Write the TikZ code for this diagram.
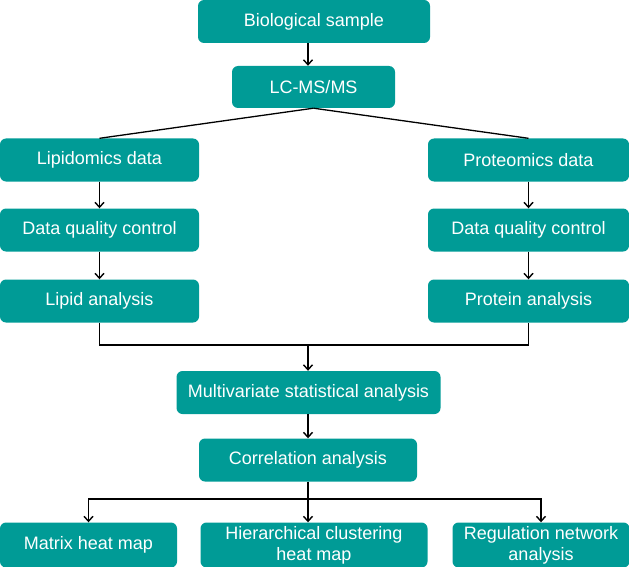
\documentclass[tikz,border=0pt]{standalone}
\usepackage{fontspec}
\setmainfont{Liberation Sans}
\usepackage{tikz}
\usetikzlibrary{positioning,calc,arrows.meta}
\definecolor{boxteal}{RGB}{0,155,150}
\tikzset{>={Straight Barb[length=5pt,width=9pt,line width=1.4pt]}}
\tikzset{box/.style={rectangle, rounded corners=6pt, fill=boxteal, text=white,
    minimum height=43pt, inner sep=0pt, align=center,
    font=\fontsize{18}{21}\selectfont}}
\tikzset{link/.style={line width=1.3pt, black}}

\begin{document}
\begin{tikzpicture}[x=1pt,y=-1pt]
  \useasboundingbox (0,0) rectangle (629,567);
  % top of the workflow
  \node[box, minimum width=232pt] (bio) at (314,21.5) {Biological sample};
  \node[box, minimum width=163pt, minimum height=42pt] (lcms) at (313.5,87) {LC-MS/MS};
  % two branches
  \node[box, minimum width=199pt] (lipid) at (99.5,160) {Lipidomics data};
  \node[box, minimum width=201pt] (prot) at (528.5,160) {Proteomics data};
  \node[box, minimum width=199pt] (qcl) at (99.5,230) {Data quality control};
  \node[box, minimum width=201pt] (qcr) at (528.5,230) {Data quality control};
  \node[box, minimum width=199pt] (lipa) at (99.5,301) {Lipid analysis};
  \node[box, minimum width=201pt] (prota) at (528.5,301) {Protein analysis};
  % joint analysis
  \node[box, minimum width=264pt] (multi) at (308.5,392.5) {Multivariate statistical analysis};
  \node[box, minimum width=218pt] (corr) at (308,460) {Correlation analysis};
  \node[box, minimum width=177pt, minimum height=45pt] (mat) at (88.5,545) {Matrix heat map};
  \node[box, minimum width=227pt, minimum height=45pt] (hier) at (314,545) {Hierarchical clustering\\heat map};
  \node[box, minimum width=177pt, minimum height=45pt] (reg) at (541,545) {Regulation network\\analysis};

  \coordinate (merge) at (308,345);
  \coordinate (split) at (308,499);

  \draw[link,->] (bio.south -| 308,0) -- (lcms.north -| 308,0);
  \draw[link] (lcms.south) -- (lipid.north);
  \draw[link] (lcms.south) -- (prot.north);
  \draw[link,->] (lipid) -- (qcl);
  \draw[link,->] (prot) -- (qcr);
  \draw[link,->] (qcl) -- (lipa);
  \draw[link,->] (qcr) -- (prota);
  \draw[link] (lipa.south) |- (merge) -| (prota.south);
  \draw[link,->] (merge) -- (multi.north -| merge);
  \draw[link,->] (multi.south -| merge) -- (corr.north -| merge);
  \draw[link,->] (corr.south -| split) -- (hier.north -| split);
  \draw[link,->] (split) -| (mat.north);
  \draw[link,->] (split) -| (reg.north);
\end{tikzpicture}
\end{document}
